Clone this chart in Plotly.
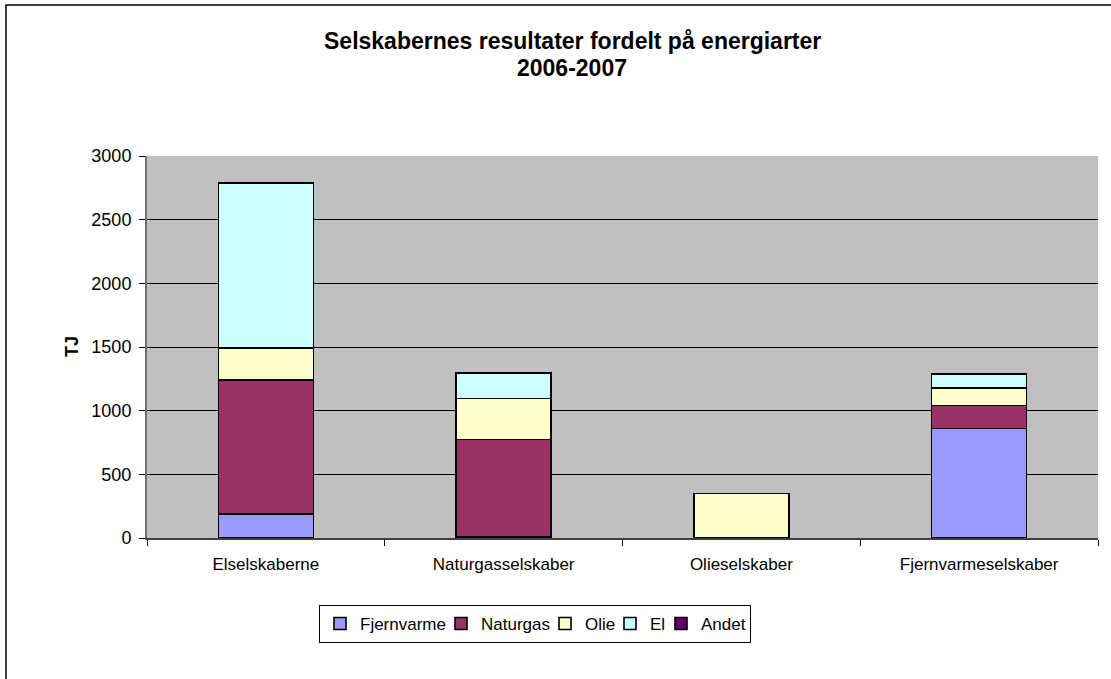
import plotly.graph_objects as go

categories = ["Elselskaberne", "Naturgasselskaber", "Olieselskaber", "Fjernvarmeselskaber"]
series_names = ["Fjernvarme", "Naturgas", "Olie", "El", "Andet"]
fjernvarme = [190, 10, 0, 860]
naturgas = [1050, 765, 0, 180]
olie = [250, 322, 350, 140]
el = [1300, 200, 0, 110]
andet = [0, 0, 0, 0]
y_ticks = [0, 500, 1000, 1500, 2000, 2500, 3000]
title_lines = ["Selskabernes resultater fordelt på energiarter", "2006-2007"]
y_title = "TJ"

colors = ["#9999FF", "#993366", "#FFFFCC", "#CCFFFF", "#660066"]
legend_widths = [76, 59, 20, 6, 44]
values = [fjernvarme, naturgas, olie, el, andet]

FONT = "Liberation Sans, Arial, sans-serif"

fig = go.Figure()
for name, vals, col, lw in zip(series_names, values, colors, legend_widths):
    fig.add_trace(go.Bar(
        x=categories, y=vals, name=name, legendwidth=lw,
        marker=dict(color=col, line=dict(color="black", width=1.6)),
    ))

W, H = 1111, 679
L, R, T, B = 147, 13, 156, 141
pw, ph = W - L - R, H - T - B


def px_x(p):
    return (p - L) / pw


def px_y(p):
    return (H - B - p) / ph


annotations = [
    dict(text="<b>%s</b>" % title_lines[0], xref="paper", yref="paper",
         x=px_x(572), y=px_y(41), xanchor="center", yanchor="middle",
         showarrow=False, font=dict(size=23, family=FONT, color="black")),
    dict(text="<b>%s</b>" % title_lines[1], xref="paper", yref="paper",
         x=px_x(572), y=px_y(68), xanchor="center", yanchor="middle",
         showarrow=False, font=dict(size=23, family=FONT, color="black")),
    dict(text="<b>%s</b>" % y_title, xref="paper", yref="paper",
         x=px_x(72), y=px_y(347), xanchor="center", yanchor="middle",
         textangle=-90, showarrow=False,
         font=dict(size=18, family=FONT, color="black")),
]

fig.update_layout(
    width=W, height=H,
    barmode="stack",
    bargap=0.6,
    paper_bgcolor="white",
    plot_bgcolor="#C0C0C0",
    margin=dict(l=L, r=R, t=T, b=B, autoexpand=False),
    font=dict(family=FONT, size=17, color="black"),
    legend=dict(
        orientation="h",
        x=px_x(535), xanchor="center",
        y=px_y(605), yanchor="top",
        bordercolor="black", borderwidth=1,
        bgcolor="white",
        font=dict(size=17, family=FONT),
        itemwidth=30,
        tracegroupgap=0,
        traceorder="normal",
    ),
    showlegend=True,
    annotations=annotations,
    shapes=[dict(
        type="rect", xref="paper", yref="paper",
        x0=px_x(6), x1=px_x(1130), y0=px_y(700), y1=px_y(5),
        line=dict(color="black", width=1.5), fillcolor="rgba(0,0,0,0)",
        layer="below",
    )],
)
fig.update_xaxes(
    type="category",
    tickson="boundaries",
    ticks="outside", ticklen=6, tickcolor="black",
    showline=True, linecolor="#404040", linewidth=1.5,
    showgrid=False,
    ticklabelstandoff=10,
    tickfont=dict(size=17, family=FONT),
)
fig.update_yaxes(
    range=[0, 3000],
    tickvals=y_ticks,
    ticks="outside", ticklen=6, tickcolor="black",
    showline=True, linecolor="#707070", linewidth=2,
    showgrid=True, gridcolor="black", gridwidth=1,
    zeroline=False,
    ticklabelstandoff=4,
    tickfont=dict(size=18, family=FONT),
)

fig.write_html(
    "out.html",
    config={"displayModeBar": False},
    post_script="document.body.style.margin='0';document.body.style.overflow='hidden';",
)
